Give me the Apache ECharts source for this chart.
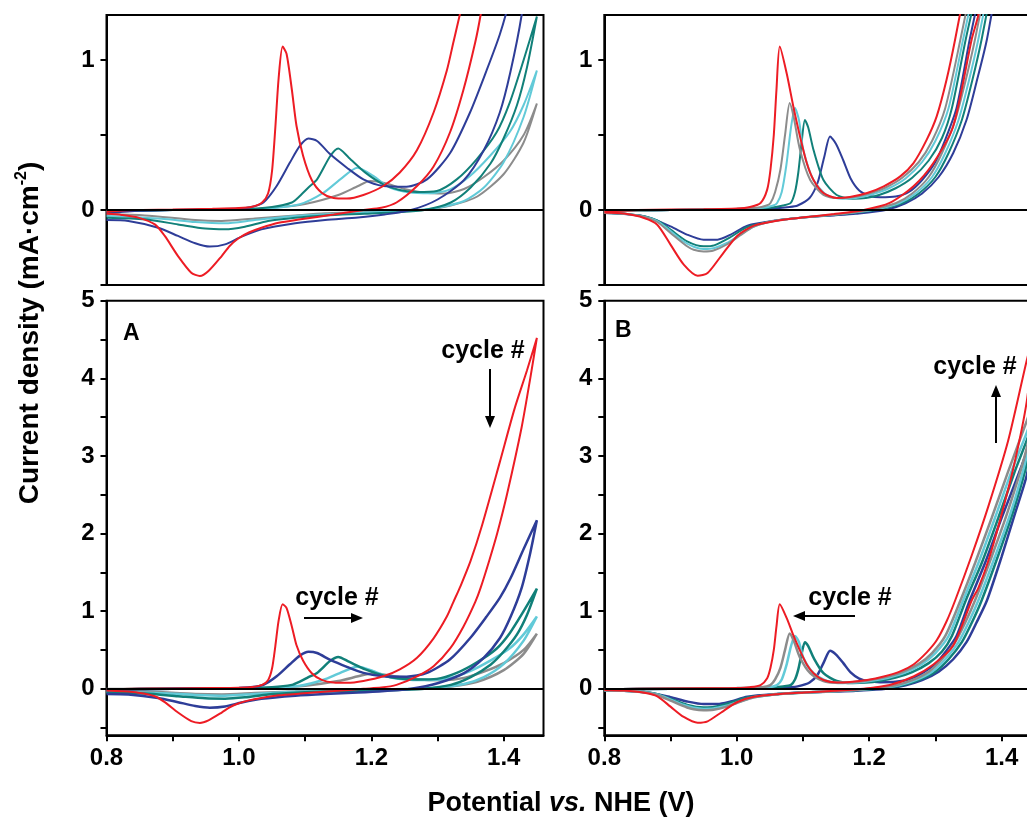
<!DOCTYPE html>
<html><head><meta charset="utf-8">
<script src="https://cdn.jsdelivr.net/npm/echarts@6/dist/echarts.min.js"></script>
<style>html,body{margin:0;padding:0;background:#fff;overflow:hidden;width:1027px;height:819px}#c{width:1046px;height:819px}</style>
</head><body><div id="c"></div>
<script>
// ---- tick labels ----
const xTickValues = [0.8, 0.9, 1.0, 1.1, 1.2, 1.3, 1.4];
const xLabelValues = [0.8, 1.0, 1.2, 1.4];
const yTopTicks = [-0.5, 0, 0.5, 1];
const yTopLabels = [0, 1];
const yBotTicks = [-0.5, 0, 0.5, 1, 1.5, 2, 2.5, 3, 3.5, 4, 4.5, 5];
const yBotLabels = [0, 1, 2, 3, 4, 5];

// ---- Panel A (potential V, current mA/cm2) ----
const A_red_fwd = [[0.80,-0.01],[0.84,0.0],[0.90,0.003],[0.96,0.008],[1.00,0.013],[1.02,0.022],[1.035,0.05],[1.044,0.11],[1.050,0.26],[1.055,0.55],[1.060,0.88],[1.066,1.09],[1.072,1.04],[1.080,0.80],[1.087,0.56],[1.097,0.36],[1.110,0.20],[1.125,0.115],[1.143,0.08],[1.163,0.076],[1.188,0.10],[1.218,0.16],[1.243,0.25],[1.269,0.40],[1.294,0.65],[1.314,0.93],[1.324,1.12],[1.335,1.33],[1.35,1.65],[1.367,2.1],[1.394,2.92],[1.416,3.6],[1.435,4.1],[1.45,4.52]];
const A_red_rev = [[1.45,4.52],[1.44,4.0],[1.427,3.37],[1.405,2.51],[1.39,2.0],[1.378,1.65],[1.365,1.30],[1.357,1.12],[1.339,0.80],[1.319,0.52],[1.294,0.29],[1.269,0.16],[1.238,0.05],[1.215,0.015],[1.188,0.0],[1.143,-0.03],[1.093,-0.062],[1.06,-0.085],[1.034,-0.118],[1.015,-0.15],[0.999,-0.19],[0.986,-0.24],[0.974,-0.307],[0.954,-0.407],[0.941,-0.44],[0.928,-0.418],[0.908,-0.307],[0.888,-0.173],[0.873,-0.096],[0.848,-0.051],[0.823,-0.033],[0.80,-0.024]];
const A_blue_fwd = [[0.80,-0.02],[0.85,-0.005],[0.90,0.0],[0.96,0.005],[1.00,0.01],[1.017,0.018],[1.037,0.05],[1.057,0.16],[1.077,0.316],[1.092,0.427],[1.105,0.476],[1.118,0.46],[1.138,0.371],[1.163,0.282],[1.188,0.204],[1.218,0.16],[1.253,0.155],[1.284,0.204],[1.319,0.38],[1.349,0.65],[1.374,0.93],[1.394,1.17],[1.41,1.42],[1.43,1.8],[1.45,2.17]];
const A_blue_rev = [[1.45,2.17],[1.44,1.75],[1.427,1.30],[1.41,0.92],[1.394,0.65],[1.37,0.40],[1.34,0.20],[1.30,0.07],[1.26,0.0],[1.22,-0.03],[1.18,-0.05],[1.13,-0.067],[1.085,-0.089],[1.034,-0.129],[1.004,-0.178],[0.979,-0.229],[0.956,-0.244],[0.934,-0.222],[0.908,-0.173],[0.878,-0.118],[0.833,-0.073],[0.80,-0.067]];
const A_teal_fwd = [[0.80,-0.01],[0.90,0.0],[1.00,0.005],[1.05,0.02],[1.08,0.05],[1.092,0.093],[1.105,0.15],[1.118,0.204],[1.138,0.36],[1.15,0.41],[1.166,0.349],[1.191,0.249],[1.218,0.171],[1.243,0.133],[1.269,0.12],[1.299,0.127],[1.329,0.204],[1.359,0.338],[1.389,0.516],[1.409,0.716],[1.43,1.0],[1.45,1.29]];
const A_teal_rev = [[1.45,1.29],[1.435,0.95],[1.42,0.7],[1.40,0.48],[1.38,0.31],[1.35,0.15],[1.32,0.05],[1.28,0.0],[1.24,-0.015],[1.19,-0.025],[1.13,-0.036],[1.085,-0.051],[1.044,-0.073],[1.009,-0.111],[0.979,-0.129],[0.949,-0.124],[0.908,-0.096],[0.858,-0.062],[0.80,-0.051]];
const A_cyan_fwd = [[0.80,-0.01],[0.90,0.0],[1.00,0.004],[1.05,0.012],[1.092,0.038],[1.128,0.116],[1.153,0.204],[1.179,0.282],[1.203,0.227],[1.228,0.149],[1.258,0.116],[1.289,0.111],[1.319,0.138],[1.349,0.227],[1.379,0.36],[1.409,0.52],[1.43,0.7],[1.45,0.93]];
const A_cyan_rev = [[1.45,0.93],[1.43,0.62],[1.40,0.32],[1.37,0.15],[1.34,0.06],[1.30,0.015],[1.27,0.0],[1.2,-0.015],[1.13,-0.029],[1.085,-0.04],[1.024,-0.067],[0.979,-0.089],[0.934,-0.08],[0.883,-0.058],[0.80,-0.04]];
const A_gray_fwd = [[0.80,-0.005],[0.90,0.0],[1.00,0.005],[1.05,0.015],[1.10,0.04],[1.15,0.1],[1.18,0.16],[1.198,0.193],[1.22,0.18],[1.25,0.14],[1.28,0.115],[1.31,0.11],[1.34,0.14],[1.37,0.22],[1.40,0.33],[1.43,0.5],[1.45,0.71]];
const A_gray_rev = [[1.45,0.71],[1.43,0.45],[1.40,0.24],[1.36,0.09],[1.32,0.03],[1.28,0.0],[1.2,-0.012],[1.13,-0.022],[1.085,-0.036],[1.024,-0.056],[0.974,-0.073],[0.934,-0.067],[0.858,-0.036],[0.80,-0.029]];

// ---- Panel B ----
const B_red_fwd = [[0.80,-0.01],[0.85,0.0],[0.95,0.005],[1.00,0.01],[1.02,0.02],[1.036,0.047],[1.046,0.136],[1.051,0.27],[1.056,0.5],[1.060,0.8],[1.065,1.09],[1.0755,0.91],[1.0855,0.69],[1.0956,0.49],[1.106,0.31],[1.116,0.20],[1.131,0.113],[1.151,0.08],[1.171,0.087],[1.197,0.113],[1.222,0.158],[1.247,0.224],[1.267,0.313],[1.287,0.469],[1.302,0.624],[1.317,0.87],[1.33,1.14],[1.355,1.72],[1.38,2.35],[1.41,3.2],[1.438,4.23],[1.45,4.62]];
const B_red_rev = [[1.45,4.62],[1.438,3.7],[1.418,2.85],[1.397,2.15],[1.38,1.65],[1.365,1.3],[1.355,1.14],[1.327,0.558],[1.297,0.313],[1.267,0.158],[1.231,0.047],[1.192,0.0],[1.147,-0.027],[1.102,-0.049],[1.061,-0.071],[1.026,-0.104],[1.001,-0.171],[0.976,-0.309],[0.956,-0.42],[0.941,-0.438],[0.92,-0.364],[0.90,-0.231],[0.88,-0.098],[0.86,-0.053],[0.83,-0.024],[0.80,-0.016]];
const B_gray_fwd = [[0.80,-0.01],[0.90,0.0],[1.00,0.008],[1.03,0.015],[1.045,0.03],[1.051,0.047],[1.058,0.12],[1.066,0.27],[1.073,0.5],[1.080,0.713],[1.086,0.62],[1.0956,0.40],[1.111,0.2],[1.131,0.10],[1.151,0.08],[1.175,0.085],[1.2,0.11],[1.225,0.15],[1.25,0.215],[1.275,0.32],[1.295,0.46],[1.315,0.68],[1.338,1.14],[1.36,1.62],[1.385,2.2],[1.41,2.8],[1.438,3.45],[1.45,3.75]];
const B_gray_rev = [[1.45,3.75],[1.438,3.1],[1.41,2.3],[1.385,1.7],[1.36,1.14],[1.345,0.85],[1.33,0.6],[1.31,0.38],[1.29,0.22],[1.265,0.11],[1.24,0.045],[1.2,0.0],[1.16,-0.025],[1.1,-0.05],[1.06,-0.07],[1.026,-0.11],[1.005,-0.17],[0.985,-0.23],[0.965,-0.27],[0.95,-0.276],[0.935,-0.265],[0.925,-0.242],[0.90,-0.153],[0.88,-0.08],[0.86,-0.045],[0.83,-0.025],[0.80,-0.018]];
const B_cyan_fwd = [[0.80,-0.01],[0.90,0.0],[1.00,0.006],[1.04,0.015],[1.055,0.03],[1.061,0.047],[1.068,0.12],[1.075,0.3],[1.082,0.55],[1.088,0.68],[1.094,0.6],[1.1006,0.40],[1.116,0.20],[1.136,0.10],[1.16,0.075],[1.18,0.08],[1.205,0.105],[1.23,0.145],[1.255,0.21],[1.28,0.32],[1.30,0.46],[1.32,0.68],[1.342,1.14],[1.365,1.62],[1.39,2.2],[1.415,2.8],[1.438,3.3],[1.45,3.6]];
const B_cyan_rev = [[1.45,3.6],[1.438,3.0],[1.415,2.3],[1.39,1.7],[1.365,1.14],[1.35,0.85],[1.335,0.6],[1.315,0.38],[1.295,0.22],[1.27,0.11],[1.245,0.045],[1.205,0.0],[1.16,-0.025],[1.1,-0.05],[1.06,-0.07],[1.026,-0.11],[1.005,-0.165],[0.985,-0.22],[0.965,-0.255],[0.95,-0.26],[0.935,-0.245],[0.92,-0.21],[0.90,-0.14],[0.88,-0.075],[0.86,-0.045],[0.83,-0.025],[0.80,-0.018]];
const B_teal_fwd = [[0.80,-0.01],[0.90,0.0],[1.00,0.005],[1.05,0.015],[1.07,0.03],[1.0815,0.047],[1.088,0.12],[1.093,0.25],[1.098,0.45],[1.103,0.60],[1.108,0.55],[1.116,0.40],[1.131,0.2],[1.151,0.10],[1.175,0.075],[1.195,0.08],[1.215,0.10],[1.24,0.145],[1.265,0.215],[1.29,0.33],[1.31,0.48],[1.325,0.68],[1.346,1.14],[1.37,1.62],[1.395,2.2],[1.42,2.8],[1.438,3.2],[1.45,3.5]];
const B_teal_rev = [[1.45,3.5],[1.438,2.9],[1.42,2.35],[1.395,1.72],[1.37,1.14],[1.355,0.85],[1.34,0.6],[1.32,0.38],[1.30,0.22],[1.275,0.11],[1.25,0.045],[1.21,0.0],[1.16,-0.027],[1.1,-0.05],[1.06,-0.07],[1.016,-0.113],[0.991,-0.18],[0.966,-0.236],[0.95,-0.242],[0.925,-0.209],[0.90,-0.131],[0.88,-0.07],[0.86,-0.042],[0.83,-0.025],[0.80,-0.02]];
const B_blue_fwd = [[0.80,-0.01],[0.90,0.0],[1.00,0.005],[1.05,0.01],[1.08,0.02],[1.092,0.03],[1.11,0.08],[1.122,0.18],[1.132,0.35],[1.141,0.49],[1.15,0.44],[1.161,0.33],[1.172,0.21],[1.185,0.13],[1.2,0.095],[1.2165,0.085],[1.24,0.09],[1.26,0.12],[1.28,0.2],[1.30,0.32],[1.315,0.47],[1.332,0.68],[1.352,1.14],[1.375,1.62],[1.40,2.2],[1.425,2.75],[1.438,3.05],[1.45,3.35]];
const B_blue_rev = [[1.45,3.35],[1.438,2.75],[1.42,2.25],[1.40,1.7],[1.378,1.14],[1.362,0.85],[1.347,0.6],[1.327,0.38],[1.305,0.22],[1.28,0.11],[1.255,0.045],[1.225,0.0],[1.18,-0.025],[1.147,-0.036],[1.1,-0.05],[1.061,-0.069],[1.016,-0.104],[0.991,-0.164],[0.971,-0.198],[0.95,-0.198],[0.925,-0.164],[0.90,-0.109],[0.86,-0.042],[0.80,-0.02]];

const COLORS = {red:'#ed1c24', blue:'#2e3d98', teal:'#118079', cyan:'#62cad8', gray:'#8c8c8c'};

const loopsA = [
  {c:'gray', f:A_gray_fwd, r:A_gray_rev},
  {c:'cyan', f:A_cyan_fwd, r:A_cyan_rev},
  {c:'teal', f:A_teal_fwd, r:A_teal_rev},
  {c:'blue', f:A_blue_fwd, r:A_blue_rev},
  {c:'red',  f:A_red_fwd,  r:A_red_rev}
];
const loopsB = [
  {c:'blue', f:B_blue_fwd, r:B_blue_rev},
  {c:'teal', f:B_teal_fwd, r:B_teal_rev},
  {c:'cyan', f:B_cyan_fwd, r:B_cyan_rev},
  {c:'gray', f:B_gray_fwd, r:B_gray_rev},
  {c:'red',  f:B_red_fwd,  r:B_red_rev}
];

const FONT = '"Liberation Sans", Arial, Helvetica, sans-serif';
const GRIDS = [
  {left:106.5, top:15,    width:437, height:270},
  {left:106.5, top:300.7, width:437, height:434.6},
  {left:604.3, top:15,    width:437, height:270},
  {left:604.3, top:300.7, width:437, height:434.6}
];

function xAxis(gi, bottom){
  return {gridIndex:gi, type:'value', min:0.8, max:1.46,
    axisLine:{show:true, onZero:false, lineStyle:{color:'#000', width:2}},
    axisTick:{show:bottom, inside:false, length:6, customValues:xTickValues, lineStyle:{color:'#000', width:2}},
    axisLabel:{show:bottom, customValues:xLabelValues, formatter:v=>Number(v).toFixed(1),
      fontSize:24, fontWeight:'bold', color:'#000', fontFamily:FONT, margin:11},
    splitLine:{show:false}};
}
function yAxis(gi, top){
  return {gridIndex:gi, type:'value', min: top ? -0.5 : -0.6, max: top ? 1.3 : 5,
    axisLine:{show:true, onZero:false, lineStyle:{color:'#000', width:2}},
    axisTick:{show:true, inside:false, length:6, customValues: top ? yTopTicks : yBotTicks, lineStyle:{color:'#000', width:2}},
    axisLabel:{show:true, customValues: top ? yTopLabels : yBotLabels, formatter:v=>String(Math.round(v)),
      fontSize:24, fontWeight:'bold', color:'#000', fontFamily:FONT, margin:12},
    splitLine:{show:false}};
}

const series = [];
function addLoops(loops, gi, width){
  loops.forEach(L => {
    series.push({type:'line', xAxisIndex:gi, yAxisIndex:gi, data:L.f.concat(L.r.slice(1)),
      showSymbol:false, symbol:'none', smooth:0.25, clip:true,
      lineStyle:{color:COLORS[L.c], width: L.c==='red' ? 2 : width}, silent:true});
  });
  series.push({type:'line', xAxisIndex:gi, yAxisIndex:gi, data:[], z:5, silent:true,
    markLine:{silent:true, symbol:'none', label:{show:false}, animation:false,
      lineStyle:{color:'#000', width:2, type:'solid'}, data:[{yAxis:0}]}});
}
addLoops(loopsA, 0, 2);
addLoops(loopsA, 1, 2.5);
addLoops(loopsB, 2, 2);
addLoops(loopsB, 3, 2.5);

function txt(x, y, s, size, align){
  return {type:'text', x:x, y:y, z:20, style:{text:s, fill:'#000', fontSize:size, fontWeight:'bold',
    fontFamily:FONT, align:align||'center', verticalAlign:'middle'}};
}
function arrow(x1, y1, x2, y2){
  const dx = x2-x1, dy = y2-y1, len = Math.hypot(dx,dy), ux = dx/len, uy = dy/len;
  const hl = 12, hw = 5;
  const bx = x2-ux*hl, by = y2-uy*hl;
  return [
    {type:'line', z:20, shape:{x1:x1, y1:y1, x2:bx, y2:by}, style:{stroke:'#000', lineWidth:2}},
    {type:'polygon', z:20, shape:{points:[[x2,y2],[bx-uy*hw, by+ux*hw],[bx+uy*hw, by-ux*hw]]}, style:{fill:'#000'}}
  ];
}

const graphic = [
  txt(123, 334, 'A', 23, 'left'),
  txt(615, 331, 'B', 23, 'left'),
  txt(483, 351, 'cycle #', 25),
  ...arrow(490, 369, 490, 428),
  txt(337, 598, 'cycle #', 25),
  ...arrow(304, 618, 363, 618),
  txt(975, 367, 'cycle #', 25),
  ...arrow(996, 443, 996, 385),
  txt(850, 598, 'cycle #', 25),
  ...arrow(855, 616, 793, 616),
  {type:'text', x:30, y:333, rotation:Math.PI/2, z:20,
    style:{text:'{t|Current density (mA·cm}{s|-2}{t|)}', align:'center', verticalAlign:'middle',
      rich:{t:{fontSize:28, fontWeight:'bold', fontFamily:FONT, fill:'#000', lineHeight:33},
            s:{fontSize:16, fontWeight:'bold', fontFamily:FONT, fill:'#000', verticalAlign:'top', lineHeight:33}}}},
  {type:'text', x:561, y:804, z:20,
    style:{text:'{n|Potential }{i|vs.}{n| NHE (V)}', align:'center', verticalAlign:'middle',
      rich:{n:{fontSize:27, fontWeight:'bold', fontFamily:FONT, fill:'#000'},
            i:{fontSize:27, fontWeight:'bold', fontStyle:'italic', fontFamily:FONT, fill:'#000'}}}}
];

const chart = echarts.init(document.getElementById('c'), null, {renderer:'canvas', width:1046, height:819});
chart.setOption({
  animation:false, backgroundColor:'#fff',
  grid: GRIDS.map(g => Object.assign({show:true, borderColor:'#000', borderWidth:2, containLabel:false}, g)),
  xAxis:[xAxis(0,false), xAxis(1,true), xAxis(2,false), xAxis(3,true)],
  yAxis:[yAxis(0,true), yAxis(1,false), yAxis(2,true), yAxis(3,false)],
  series: series,
  graphic: graphic
});
</script></body></html>
